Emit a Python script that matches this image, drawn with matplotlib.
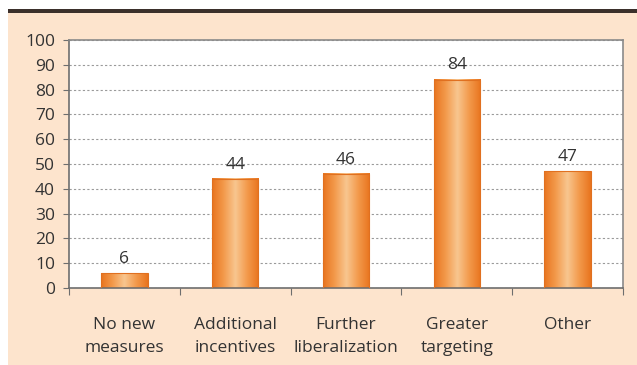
import numpy as np
import matplotlib.pyplot as plt
from matplotlib.colors import LinearSegmentedColormap
from matplotlib.patches import Rectangle

categories = ["No new\nmeasures", "Additional\nincentives", "Further\nliberalization",
              "Greater\ntargeting", "Other"]
values = [6, 44, 46, 84, 47]
yticks = list(range(0, 101, 10))

plt.rcParams['font.family'] = ['Open Sans', 'DejaVu Sans']

fig = plt.figure(figsize=(6.37, 3.65), dpi=100)
fig.patch.set_facecolor("white")

# peach panel and dark rule along its top
fig.patches.append(Rectangle((8/637, 0), 1 - 8/637, (365 - 12)/365,
                             transform=fig.transFigure, facecolor="#fde4cd",
                             edgecolor="none", zorder=-3))
fig.patches.append(Rectangle((8/637, (365 - 13)/365), 1 - 8/637, 4/365,
                             transform=fig.transFigure, facecolor="#3b302b",
                             edgecolor="none", zorder=-2))

ax = fig.add_axes([69/637, 77/365, 554/637, 248/365])
ax.set_facecolor("white")

x = np.arange(len(categories))
w = 0.42
bars = ax.bar(x, values, width=w, color="none", edgecolor="#e07020", lw=0.8, zorder=3)

# orange-light-orange horizontal shading inside each bar
cmap = LinearSegmentedColormap.from_list("bar", ["#e8741e", "#f39a4c", "#f8c68f", "#f39a4c", "#e8741e"])
grad = np.linspace(0, 1, 256).reshape(1, -1)
for b in bars:
    x0, y0 = b.get_x(), b.get_y()
    im = ax.imshow(grad, cmap=cmap, aspect="auto", zorder=2,
                   extent=[x0, x0 + b.get_width(), y0, y0 + b.get_height()])

for xi, v in zip(x, values):
    ax.text(xi, v + 2.5, str(v), ha="center", va="bottom", fontsize=12.5, color="#333333")

ax.set_xlim(-0.5, len(categories) - 0.5)
ax.set_ylim(0, 100)
ax.set_yticks(yticks)
ax.set_yticklabels([str(t) for t in yticks], fontsize=12.5, color="#333333")
ax.yaxis.grid(True, linestyle=(0, (2, 2)), color="#9a9a9a", lw=0.8)
ax.set_axisbelow(True)

# category ticks sit between bars, labels at bar centres
ax.set_xticks(np.arange(len(categories) + 1) - 0.5)
ax.set_xticklabels([])
ax.set_xticks(x, minor=True)
ax.set_xticklabels(categories, minor=True, fontsize=12.5, color="#333333", linespacing=1.6)
ax.tick_params(axis="x", which="minor", length=0, pad=21)
ax.tick_params(axis="x", which="major", length=5, color="#6e6e6e", direction="out")
ax.tick_params(axis="y", length=4, color="#6e6e6e", pad=6)

for s in ax.spines.values():
    s.set_color("#8a8a8a")
    s.set_linewidth(1.2)
ax.spines["left"].set_color("#6e6e6e")
ax.spines["bottom"].set_color("#6e6e6e")

fig.savefig("out.png", dpi=100, facecolor=fig.get_facecolor())
